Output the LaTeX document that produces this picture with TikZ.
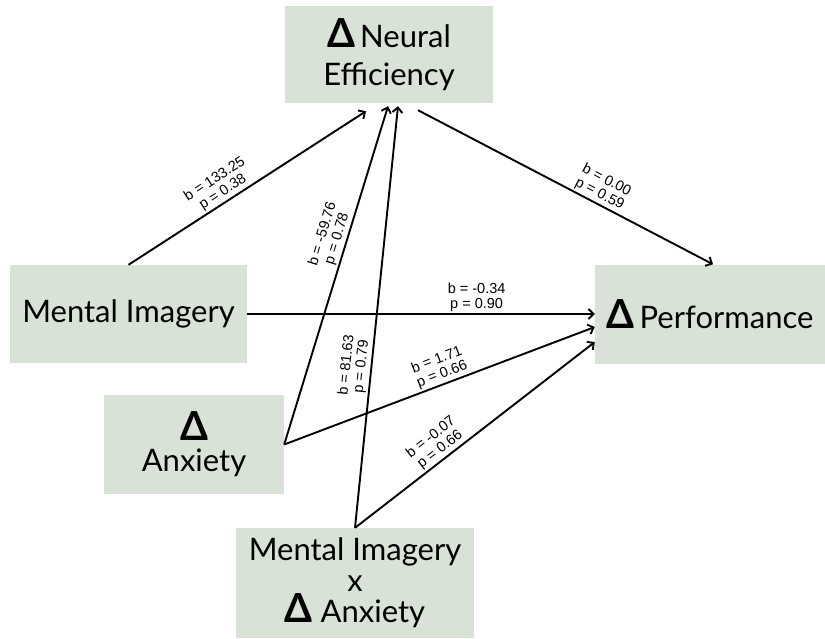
\documentclass[tikz,border=0pt]{standalone}
\usepackage{fontspec}
\setmainfont{Lato}
\newfontfamily\coeffont{Liberation Sans}
\usepackage{xcolor}
\usepackage{tikz}
\usetikzlibrary{arrows.meta}
\definecolor{boxfill}{HTML}{D9E2D7}
\newcommand{\bigdelta}{{\fontsize{40}{30}\selectfont\bfseries Δ}}

\begin{document}
\begin{tikzpicture}[x=1pt, y=-1pt,
		factor/.style={fill=boxfill, inner sep=0pt, align=center, font=\fontsize{31}{31}\selectfont},
		effect/.style={line width=1.9pt, -{Straight Barb[length=5pt,width=10pt]}},
		coef/.style={font=\coeffont\fontsize{14.5}{15}\selectfont, align=center, sloped, above=1pt, inner sep=1pt}]
			\useasboundingbox (0,0) rectangle (825,638);
			% Boxes:
			\node[factor, minimum width=208pt, minimum height=97pt] (ne) at (389,54.5) {\bigdelta\,Neural\\[7pt]Efficiency};
			\node[factor, minimum width=237pt, minimum height=98pt] (mi) at (128.5,314) {Mental Imagery};
			\node[factor, minimum width=230pt, minimum height=99pt] (perf) at (710,314) {\bigdelta\,Performance};
			\node[factor, minimum width=180pt, minimum height=99pt] (anx) at (194,444.5) {\bigdelta\\Anxiety};
			\node[factor, minimum width=238pt, minimum height=110pt] (mix) at (355,583) {Mental Imagery\\x\\\bigdelta\ Anxiety};
			% Paths to neural efficiency:
			\draw[effect] (mi.north) -- node[coef, pos=0.42] {b = 133.25\\p = 0.38} ([xshift=-23pt, yshift=-8pt]ne.south);
			\draw[effect] (anx.east) -- node[coef, pos=0.6] {b = -59.76\\p = 0.78} ([xshift=-1pt, yshift=-3pt]ne.south);
			\draw[effect] (mix.north) -- node[coef, pos=0.38] {b = 81.63\\p = 0.79} ([xshift=9pt, yshift=-3pt]ne.south);
			% Paths to performance:
			\draw[effect] ([xshift=29pt, yshift=-7pt]ne.south) -- node[coef, pos=0.6] {b = 0.00\\p = 0.59} ([xshift=3pt]perf.north);
			\draw[effect] (mi.east) -- node[coef, pos=0.66] {b = -0.34\\p = 0.90} (perf.west);
			\draw[effect] (anx.east) -- node[coef, pos=0.52] {b = 1.71\\p = 0.66} ([yshift=-13pt]perf.west);
			\draw[effect] (mix.north) -- node[coef, pos=0.38] {b = -0.07\\p = 0.66} ([yshift=-28pt]perf.west);
		\end{tikzpicture}
\end{document}
